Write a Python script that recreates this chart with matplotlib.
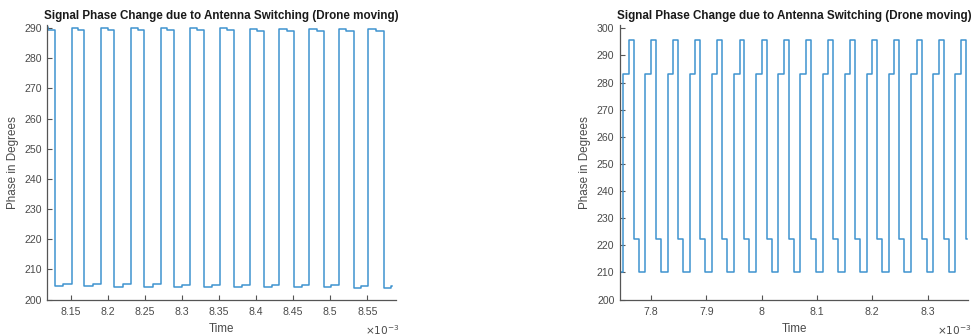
import numpy as np
import matplotlib
matplotlib.use('Agg')
import matplotlib.pyplot as plt

plt.rcParams['font.family'] = ['Liberation Sans', 'DejaVu Sans']

title = 'Signal Phase Change due to Antenna Switching (Drone moving)'

# ---- left panel: two-level switching (time in units of 1e-3 s) ----
left_first_rise = 8.1113
left_period = 0.04
left_end = 8.583
# duration of the high part of each cycle
left_high_width = [0.017, 0.017, 0.0175, 0.018, 0.018, 0.0185,
                   0.019, 0.0195, 0.020, 0.0205, 0.021, 0.0215]
left_high_a = [290.2, 290.1, 290.1, 290.0, 290.0, 289.9,
               289.9, 289.8, 289.8, 289.7, 289.7, 289.6]
left_high_b = [289.5, 289.4, 289.4, 289.3, 289.3, 289.2,
               289.2, 289.1, 289.1, 289.0, 289.0, 288.9]
left_low_a = [204.4, 204.4, 204.3, 204.3, 204.2, 204.2,
              204.1, 204.1, 204.0, 204.0, 203.9, 203.8]
left_low_b = [205.1, 205.1, 205.0, 205.0, 204.9, 204.9,
              204.8, 204.8, 204.7, 204.7, 204.6, 204.5]

# ---- right panel: four antenna levels per cycle ----
right_start = 7.744
right_first_rise = 7.750
right_period = 0.04
right_end = 8.372
right_slot_width = [0.010, 0.009, 0.009, 0.012]
right_level_a = [283.3] * 16
right_level_b = [295.5] * 16
right_level_c = [222.4] * 16
right_level_d = [210.3] * 16
right_lead_level = 210.3


def left_trace():
    t, y = [], []
    for k, hw in enumerate(left_high_width):
        r = left_first_rise + k * left_period
        lw = left_period - hw
        t += [r, r + hw / 2, r + hw, r + hw + lw / 2]
        y += [left_high_a[k], left_high_b[k], left_low_a[k], left_low_b[k]]
    t, y = np.array(t), np.array(y)
    keep = t < left_end
    t, y = list(t[keep]), list(y[keep])
    t.append(left_end)
    y.append(y[-1])
    return np.array(t), np.array(y)


def right_trace():
    t, y = [right_start], [right_lead_level]
    levels = list(zip(right_level_a, right_level_b, right_level_c, right_level_d))
    for k, lv in enumerate(levels):
        s = right_first_rise + k * right_period
        for w, v in zip(right_slot_width, lv):
            t.append(s)
            y.append(v)
            s += w
    t, y = np.array(t), np.array(y)
    keep = t < right_end
    t, y = list(t[keep]), list(y[keep])
    t.append(right_end)
    y.append(y[-1])
    return np.array(t), np.array(y)


line_color = '#3f93cf'
axis_color = '#555555'
text_color = '#4a4a4a'

fig = plt.figure(figsize=(9.73, 3.36), dpi=100)
ax1 = fig.add_axes([0.0486, 0.1086, 0.3584, 0.817])
ax2 = fig.add_axes([0.6372, 0.1086, 0.3577, 0.817])


def style(ax):
    for s in ['top', 'right']:
        ax.spines[s].set_visible(False)
    for s in ['left', 'bottom']:
        ax.spines[s].set_color(axis_color)
        ax.spines[s].set_linewidth(0.9)
    ax.tick_params(direction='in', length=3.5, width=0.8, color=axis_color,
                   labelcolor=text_color, labelsize=7.6)
    ax.tick_params(axis='x', pad=5.5)
    ax.tick_params(axis='y', pad=4)
    ax.set_title(title, fontsize=8.4, fontweight='bold', color='#1a1a1a', pad=4.5)
    ax.set_xlabel('Time', fontsize=8.4, color=text_color, labelpad=4)
    ax.set_ylabel('Phase in Degrees', fontsize=8.4, color=text_color, labelpad=4)
    ax.text(0.96, -0.11, r'$\times 10^{-3}$', transform=ax.transAxes,
            ha='center', va='center', fontsize=7.6, color=text_color)


t, y = left_trace()
ax1.step(t, y, where='post', color=line_color, lw=1.1)
ax1.set_xlim(8.1184, 8.5887)
ax1.set_ylim(200, 291)
ax1.set_xticks([8.15, 8.2, 8.25, 8.3, 8.35, 8.4, 8.45, 8.5, 8.55])
ax1.set_xticklabels(['8.15', '8.2', '8.25', '8.3', '8.35', '8.4', '8.45', '8.5', '8.55'])
ax1.set_yticks(np.arange(200, 291, 10))
style(ax1)

t, y = right_trace()
ax2.step(t, y, where='post', color=line_color, lw=1.1)
ax2.set_xlim(7.744, 8.373)
ax2.set_ylim(200, 301.2)
ax2.set_xticks([7.8, 7.9, 8.0, 8.1, 8.2, 8.3])
ax2.set_xticklabels(['7.8', '7.9', '8', '8.1', '8.2', '8.3'])
ax2.set_yticks(np.arange(200, 301, 10))
style(ax2)

fig.savefig('out.png', dpi=100)
